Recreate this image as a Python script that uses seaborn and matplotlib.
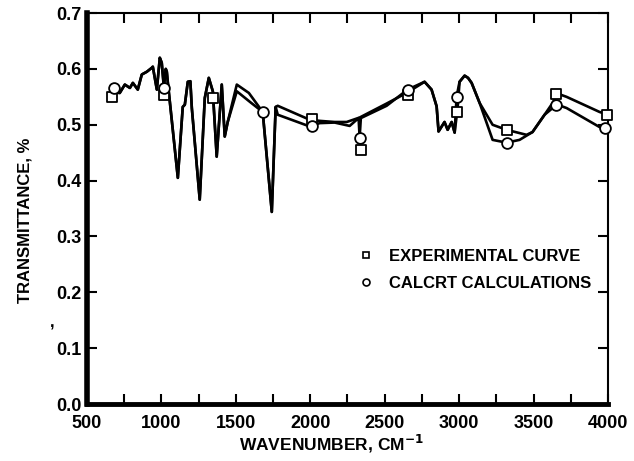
import numpy as np
import pandas as pd
import matplotlib
matplotlib.use('Agg')
import matplotlib.pyplot as plt
import seaborn as sns
from matplotlib.lines import Line2D

# experimental curve
exp_wn = [690, 721, 755, 789, 809, 842, 869, 903, 936, 943, 970, 990, 1003, 1017, 1030, 1037,
          1044, 1070, 1111, 1144, 1158, 1178, 1195, 1205, 1258, 1292, 1319, 1346, 1372, 1406,
          1426, 1446, 1507, 1588, 1681, 1742, 1768, 1782, 1997, 2064, 2164, 2245, 2332, 2513,
          2654, 2768, 2815, 2849, 2862, 2902, 2923, 2950, 2970, 2990, 3003, 3037, 3060, 3084,
          3138, 3225, 3319, 3453, 3493, 3574, 3628, 3660, 3722, 3943, 4000]
exp_t = [0.558, 0.557, 0.572, 0.566, 0.575, 0.563, 0.590, 0.595, 0.602, 0.604, 0.563, 0.620,
         0.611, 0.568, 0.600, 0.595, 0.575, 0.509, 0.405, 0.532, 0.536, 0.577, 0.578, 0.530,
         0.366, 0.548, 0.584, 0.560, 0.443, 0.572, 0.479, 0.505, 0.572, 0.557, 0.523, 0.344,
         0.532, 0.534, 0.509, 0.507, 0.505, 0.505, 0.513, 0.538, 0.558, 0.577, 0.563, 0.533,
         0.488, 0.505, 0.491, 0.505, 0.486, 0.530, 0.577, 0.588, 0.584, 0.575, 0.539, 0.500,
         0.491, 0.482, 0.487, 0.518, 0.539, 0.556, 0.550, 0.523, 0.518]

# CALCRT calculated curve
calc_wn = [690, 721, 755, 789, 809, 842, 869, 903, 936, 943, 970, 990, 1003, 1017, 1030, 1037,
           1044, 1070, 1111, 1144, 1158, 1178, 1195, 1205, 1258, 1292, 1319, 1346, 1372, 1406,
           1426, 1446, 1507, 1600, 1681, 1742, 1768, 1782, 1997, 2064, 2164, 2265, 2325, 2332,
           2340, 2513, 2654, 2768, 2815, 2849, 2862, 2902, 2923, 2950, 2970, 2983, 3003, 3037,
           3060, 3084, 3138, 3225, 3319, 3406, 3493, 3574, 3628, 3660, 3722, 3943, 4000]
calc_t = [0.558, 0.557, 0.572, 0.566, 0.575, 0.563, 0.590, 0.595, 0.602, 0.604, 0.563, 0.620,
          0.611, 0.568, 0.600, 0.595, 0.575, 0.509, 0.405, 0.532, 0.536, 0.577, 0.578, 0.530,
          0.366, 0.548, 0.584, 0.560, 0.443, 0.572, 0.479, 0.505, 0.560, 0.540, 0.523, 0.344,
          0.532, 0.518, 0.497, 0.503, 0.504, 0.498, 0.512, 0.477, 0.512, 0.534, 0.563, 0.577,
          0.563, 0.533, 0.488, 0.505, 0.491, 0.505, 0.486, 0.550, 0.577, 0.588, 0.584, 0.575,
          0.539, 0.473, 0.468, 0.473, 0.487, 0.518, 0.530, 0.536, 0.530, 0.496, 0.493]

# marker points
sq_wn = [670, 1017, 1346, 2010, 2339, 2654, 2983, 3319, 3648, 3990]
sq_t = [0.550, 0.554, 0.548, 0.511, 0.455, 0.554, 0.523, 0.491, 0.556, 0.518]
ci_wn = [680, 1017, 1681, 2010, 2332, 2654, 2983, 3319, 3648, 3977]
ci_t = [0.566, 0.566, 0.523, 0.498, 0.477, 0.563, 0.550, 0.468, 0.536, 0.494]

sns.set_style('ticks')
plt.rcParams['font.family'] = ['Liberation Sans', 'DejaVu Sans']
plt.rcParams['font.weight'] = 'bold'
plt.rcParams['text.color'] = 'black'
plt.rcParams['axes.labelcolor'] = 'black'
plt.rcParams['xtick.color'] = 'black'
plt.rcParams['ytick.color'] = 'black'

fig = plt.figure(figsize=(6.34, 4.61), dpi=100)
ax = fig.add_axes([0.137, 0.1236, 0.822, 0.848])

exp_df = pd.DataFrame({'wn': exp_wn, 't': exp_t})
calc_df = pd.DataFrame({'wn': calc_wn, 't': calc_t})
sns.lineplot(data=exp_df, x='wn', y='t', color='black', lw=1.9, sort=False, ax=ax)
sns.lineplot(data=calc_df, x='wn', y='t', color='black', lw=1.9, sort=False, ax=ax)

sq_df = pd.DataFrame({'wn': sq_wn, 't': sq_t})
ci_df = pd.DataFrame({'wn': ci_wn, 't': ci_t})
sns.scatterplot(data=sq_df, x='wn', y='t', marker='s', s=50, facecolor='white',
                edgecolor='black', linewidth=1.3, zorder=5, clip_on=False, ax=ax)
sns.scatterplot(data=ci_df, x='wn', y='t', marker='o', s=60, facecolor='white',
                edgecolor='black', linewidth=1.3, zorder=5, clip_on=False, ax=ax)

ax.set_xlim(500, 4000)
ax.set_ylim(0, 0.7)
ax.set_xticks(np.arange(500, 4001, 500))
ax.set_xticks(np.arange(750, 4000, 500), minor=True)
ax.set_yticks(np.arange(0, 0.71, 0.1))
ax.set_yticklabels([f'{v:.1f}' for v in np.arange(0, 0.71, 0.1)])
ax.tick_params(axis='both', which='both', direction='in', top=True, right=True,
               labelsize=13, width=1.5, color='black', length=7)
ax.tick_params(axis='x', pad=8)
for side in ['top', 'right']:
    ax.spines[side].set_visible(True)
    ax.spines[side].set_linewidth(1.5)
ax.spines['left'].set_linewidth(4)
ax.spines['bottom'].set_linewidth(3.5)
for s in ax.spines.values():
    s.set_color('black')

ax.set_xlabel('WAVENUMBER, CM$^{\\mathbf{-1}}$', fontsize=12.5, fontweight='bold')
ax.xaxis.set_label_coords(0.47, -0.075)
ax.set_ylabel('TRANSMITTANCE, %', fontsize=12, fontweight='bold')
ax.yaxis.set_label_coords(-0.105, 0.47)
fig.text(0.079, 0.289, ',', fontsize=12, fontweight='bold')

handles = [Line2D([], [], ls='none', marker='s', ms=5, mfc='white', mec='black', mew=1.2),
           Line2D([], [], ls='none', marker='o', ms=5, mfc='white', mec='black', mew=1.2)]
ax.legend(handles, ['EXPERIMENTAL CURVE', 'CALCRT CALCULATIONS'], loc='upper left',
          bbox_to_anchor=(0.49, 0.435), frameon=False, fontsize=12, handletextpad=0.9,
          labelspacing=0.7, handlelength=1.0)

fig.savefig('out.png', dpi=100)
